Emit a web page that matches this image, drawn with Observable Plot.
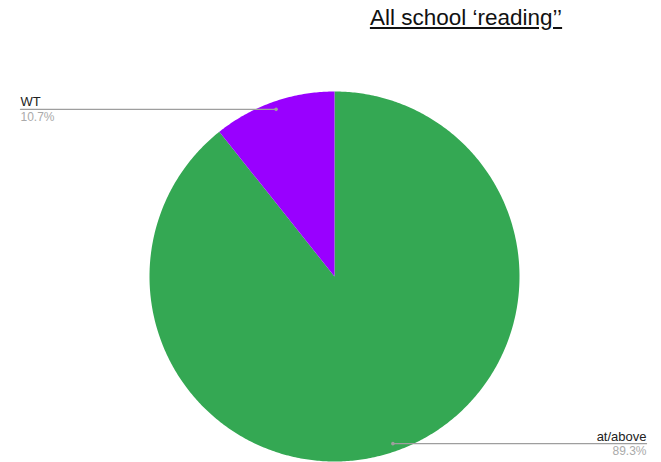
<!DOCTYPE html>
<html>
<head>
<meta charset="utf-8">
<script src="https://cdn.jsdelivr.net/npm/d3@7"></script>
<script src="https://cdn.jsdelivr.net/npm/@observablehq/plot@0.6"></script>
<style>
  html, body { margin: 0; padding: 0; background: #fff; }
  #wrap { position: relative; width: 661px; height: 462px; overflow: hidden; font-family: Arial, "Liberation Sans", sans-serif; }
  #title { position: absolute; top: 5px; left: 466px; transform: translateX(-50%); font-size: 22.5px; color: #111; text-decoration: underline; white-space: nowrap; }
  #chart { position: absolute; top: 44px; left: 0; }
</style>
</head>
<body>
<div id="wrap">
  <div id="title"></div>
  <div id="chart"></div>
</div>
<script>
const titleText = "All school \u2018reading\u2019\u2019";
const categories = ["at/above", "WT"];
const values = [89.3, 10.7];
const percentLabels = ["89.3%", "10.7%"];
const colors = ["#34a853", "#9900ff"];

document.getElementById("title").textContent = titleText;

const W = 661, H = 418;
const cx = 334, cy = 232, R = 185;

const data = categories.map((c, i) => ({category: c, value: values[i], pct: percentLabels[i], color: colors[i]}));
const arcs = d3.pie().sort(null).value(d => d.value)(data);

// slice polygons (clockwise from top)
const slices = arcs.map(a => {
  const pts = [{x: 0, y: 0}];
  const n = Math.max(2, Math.ceil((a.endAngle - a.startAngle) / 0.01));
  for (let k = 0; k <= n; k++) {
    const t = a.startAngle + (a.endAngle - a.startAngle) * k / n;
    pts.push({x: R * Math.sin(t), y: R * Math.cos(t)});
  }
  return {color: a.data.color, pts};
});

// leader lines
const labelX = {"at/above": 646 - cx, "WT": 20 - cx};
const leaders = arcs.map(a => {
  const m = (a.startAngle + a.endAngle) / 2;
  const px = 0.957 * R * Math.sin(m), py = 0.957 * R * Math.cos(m);
  const lx = labelX[a.data.category];
  return {category: a.data.category, pct: a.data.pct, px, py, lx, right: lx > 0};
});
const leaderPts = leaders.flatMap(l => [{category: l.category, x: l.px, y: l.py}, {category: l.category, x: l.lx, y: l.py}]);
const rightL = leaders.filter(l => l.right);
const leftL = leaders.filter(l => !l.right);

const labelMarks = (arr, anchor) => [
  Plot.text(arr, {x: "lx", y: "py", text: "category", textAnchor: anchor, lineAnchor: "bottom", dy: -3, fontSize: 13, fill: "#222"}),
  Plot.text(arr, {x: "lx", y: "py", text: "pct", textAnchor: anchor, lineAnchor: "top", dy: 3, fontSize: 12, fill: "#aaaaaa"})
];

const plot = Plot.plot({
  width: W,
  height: H,
  margin: 0,
  x: {domain: [-cx, W - cx], range: [0, W], axis: null},
  y: {domain: [-(H - cy), cy], range: [H, 0], axis: null},
  style: {fontFamily: "Arial, 'Liberation Sans', sans-serif", background: "#fff"},
  marks: [
    ...slices.map(s => Plot.line(s.pts, {x: "x", y: "y", fill: s.color, stroke: "none"})),
    Plot.line(leaderPts, {x: "x", y: "y", z: "category", stroke: "#9e9e9e", strokeWidth: 1.3}),
    Plot.dot(leaders, {x: "px", y: "py", r: 1.8, fill: "#9e9e9e", stroke: "none"}),
    ...labelMarks(leftL, "start"),
    ...labelMarks(rightL, "end")
  ]
});
document.getElementById("chart").appendChild(plot);
</script>
</body>
</html>
